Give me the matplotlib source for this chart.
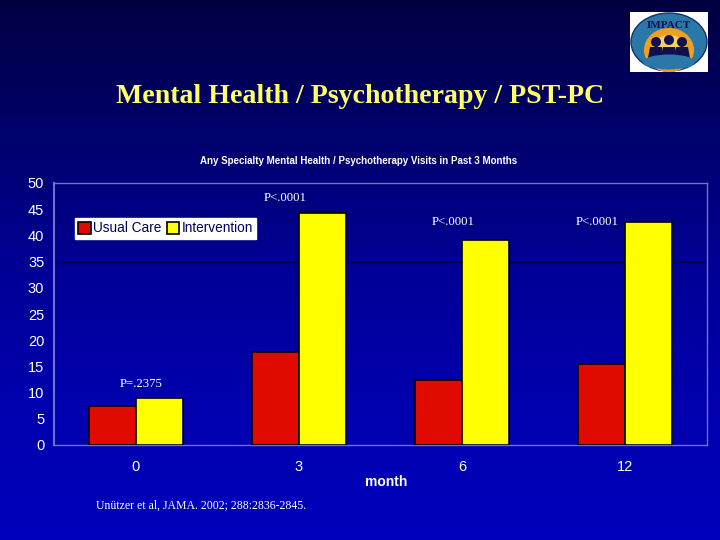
import numpy as np
import matplotlib
matplotlib.use('Agg')
import matplotlib.pyplot as plt
from matplotlib.colors import LinearSegmentedColormap
from matplotlib.patches import Ellipse, Rectangle, Circle, Polygon

months = ['0', '3', '6', '12']
usual_care = [7.5, 17.7, 12.5, 15.4]
intervention = [9.0, 44.3, 39.2, 42.6]
p_labels = ['P=.2375', 'P<.0001', 'P<.0001', 'P<.0001']
yticks = list(range(0, 55, 5))
title = 'Mental Health / Psychotherapy / PST-PC'
chart_title = 'Any Specialty Mental Health / Psychotherapy Visits in Past 3 Months'
citation = 'Unützer et al, JAMA. 2002; 288:2836-2845.'

W, H = 720, 540
fig = plt.figure(figsize=(7.2, 5.4), dpi=100)

def fx(x): return x / W
def fy(y): return 1 - y / H

# Background gradient
bg = fig.add_axes([0, 0, 1, 1], zorder=0)
cmap = LinearSegmentedColormap.from_list('bg', ['#000040', '#00006C', '#000096', '#0000AE', '#0000BC'])
bg.imshow(np.linspace(0, 1, 256).reshape(-1, 1), aspect='auto', cmap=cmap, extent=[0, 1, 0, 1])
bg.axis('off')

sans = ['Liberation Sans', 'DejaVu Sans']
serif = ['Liberation Serif', 'DejaVu Serif']

fig.text(fx(360), fy(96.5), title, color='#FFFF66', family=serif, fontsize=20.1, weight='bold',
         ha='center', va='center', zorder=5)
fig.text(fx(359), fy(161), chart_title, color='white', family=sans, fontsize=7.05, weight='bold',
         ha='center', va='center', zorder=5)

ax = fig.add_axes([fx(54), fy(445), (707 - 54) / W, (445 - 183) / H], zorder=2)
ax.patch.set_alpha(0)
x = np.arange(len(months))
bw = 0.288
edge = dict(edgecolor='black', linewidth=1.2)
b1 = ax.bar(x - bw / 2, usual_care, bw, color='#E00A00', label='Usual Care', zorder=3, **edge)
b2 = ax.bar(x + bw / 2, intervention, bw, color='#FFFF00', label='Intervention', zorder=3, **edge)
ax.set_xlim(-0.5, 3.5)
ax.set_ylim(0, 50)
ax.set_yticks(yticks)
ax.set_xticks(x)
ax.set_xticklabels(months)
ax.axhline(35, color='#000050', lw=1, zorder=1)
ax.tick_params(axis='both', length=0, colors='white', labelsize=10.5)
ax.tick_params(axis='x', pad=11)
ax.tick_params(axis='y', pad=7)
for lbl in ax.get_xticklabels() + ax.get_yticklabels():
    lbl.set_family(sans)
for s in ['top', 'right', 'bottom', 'left']:
    ax.spines[s].set_color('#7070D0')
    ax.spines[s].set_linewidth(1.0)
ax.spines['left'].set_linewidth(1.5)
ax.set_xlabel('month', color='white', family=sans, fontsize=10, weight='bold')
ax.xaxis.set_label_coords((386 - 54) / 653, -(481 - 445 - 6) / 262)

leg = ax.legend(loc='upper left', bbox_to_anchor=(21 / 653, (445 - 218) / 262), ncol=2, frameon=True,
                fancybox=False, framealpha=1, facecolor='white', edgecolor='white',
                prop={'family': sans, 'size': 9.8}, handlelength=0.9, handleheight=1.0,
                handletextpad=0.2, columnspacing=0.35, borderpad=0.25, borderaxespad=0)
for t in leg.get_texts():
    t.set_color('#000060')
leg.set_zorder(6)

p_pos = [(141, 384), (285, 198), (453, 222), (597, 222)]
for s, (px, py) in zip(p_labels, p_pos):
    fig.text(fx(px), fy(py), s, color='white', family=serif, fontsize=9.2, ha='center', va='center', zorder=5)

fig.text(fx(201), fy(506), citation, color='white', family=serif, fontsize=8.5, ha='center', va='center', zorder=5)

# Logo
la = fig.add_axes([fx(630), fy(72), 78 / W, 60 / H], zorder=3)
la.set_xlim(0, 78); la.set_ylim(60, 0); la.axis('off')
la.add_patch(Rectangle((0, 0), 78, 60, color='white'))
la.add_patch(Ellipse((39, 30), 76, 58, fc='#2A78A8', ec='#103070', lw=1))
la.add_patch(Ellipse((39, 38), 50, 44, fc='#F0A020', ec='none'))
la.add_patch(Ellipse((39, 38), 34, 30, fc='#F8D060', ec='none'))
for cx, cy in [(26, 30), (39, 28), (52, 30)]:
    la.add_patch(Circle((cx, cy), 5, fc='#101050', ec='none'))
    la.add_patch(Polygon([(cx - 8, 46), (cx - 6, 35), (cx + 6, 35), (cx + 8, 46)], fc='#101050', ec='none'))
la.add_patch(Ellipse((39, 50), 52, 15, fc='#2A78A8', ec='none'))
la.text(39, 13, 'IMPACT', color='#101050', family=serif, fontsize=8, weight='bold', ha='center', va='center')

fig.savefig('out.png', dpi=100)
